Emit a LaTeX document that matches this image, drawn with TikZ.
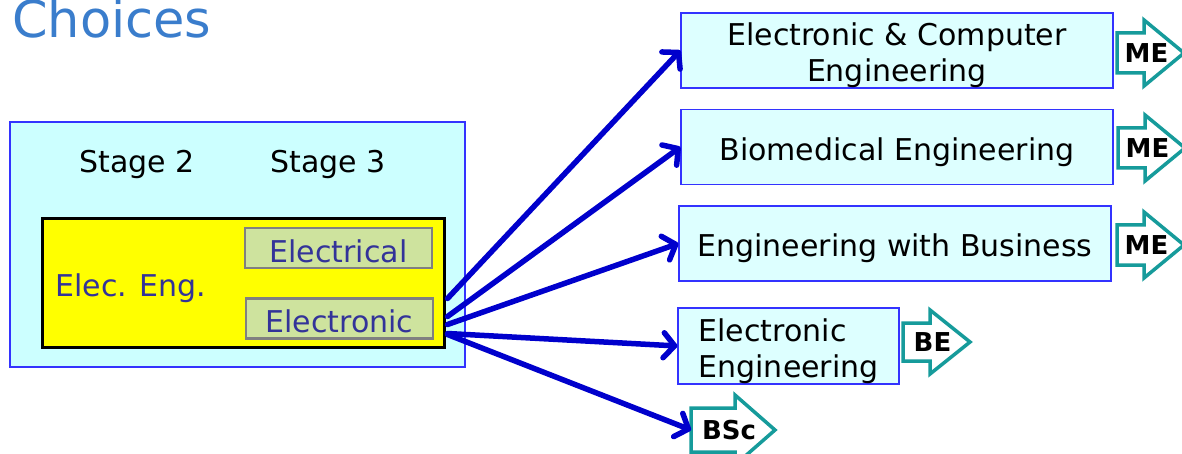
\documentclass[tikz,border=0pt]{standalone}
\usepackage{fontspec}
\setmainfont{DejaVu Sans}
\usetikzlibrary{arrows.meta,calc}

\definecolor{panelcyan}{RGB}{204,255,255}
\definecolor{boxcyan}{RGB}{221,255,255}
\definecolor{edgeblue}{RGB}{51,51,255}
\definecolor{labelblue}{RGB}{51,51,153}
\definecolor{optiongreen}{RGB}{206,227,158}
\definecolor{arrowblue}{RGB}{0,0,204}
\definecolor{badgeteal}{RGB}{22,155,155}
\definecolor{titleblue}{RGB}{58,125,204}
\definecolor{pureyellow}{RGB}{255,255,0}

% degree badge: name, left x, centre y, body length, body half height, head half height, label
\newcommand\degreebadge[7]{%
  \draw[badge] (#2,#3) -- ++(0,-#5) -- ++(#4,0) -- ++(0,#5-#6) -- ++(40,#6)
    -- ++(-40,#6) -- ++(0,#5-#6) -- ++(-#4,0) -- cycle;
  \coordinate (#1-in) at (#2,#3);
  \node[badgetext] (#1) at (#2+#4/2+16,#3) {#7};
}

\begin{document}
\begin{tikzpicture}[x=1pt,y=-1pt,
  every node/.style={font=\fontsize{30}{36}\selectfont},
  label/.style={yshift=-3pt},
  panel/.style={draw=edgeblue,line width=1.2pt,fill=panelcyan,minimum width=455pt,minimum height=245pt},
  major/.style={draw=black,line width=3pt,fill=pureyellow,minimum width=402pt,minimum height=128pt},
  option/.style={draw=gray,line width=2.5pt,fill=optiongreen,text=labelblue,minimum width=187pt,minimum height=40pt,inner sep=0pt},
  optiontext/.style={text=labelblue,yshift=-3pt},
  course/.style={draw=edgeblue,line width=1.2pt,fill=boxcyan,minimum width=432pt,minimum height=75pt,inner sep=0pt},
  coursetext/.style={align=center,yshift=-5pt},
  badge/.style={draw=badgeteal,line width=3.5pt,fill=white,line join=miter},
  badgetext/.style={font=\fontsize{26}{30}\selectfont\bfseries,inner sep=0pt},
  route/.style={draw=arrowblue,line width=5.5pt,line cap=round,
    -{Straight Barb[length=11pt,width=25pt,line cap=round,line join=round]}}
]
\useasboundingbox (0,0) rectangle (1182,454);

% heading
\node[anchor=base west,text=titleblue,font=\fontsize{51}{60}\selectfont,inner sep=0pt] (title) at (12,38) {Choices};

% programme panel
\node[panel] (panel) at (237.5,244.5) {};
\node[label] (stage2) at (137,161) {Stage 2};
\node[label] (stage3) at (328,161) {Stage 3};
\node[major] (major) at (243,283) {};
\node[optiontext] (eleceng) at (131,285) {Elec. Eng.};
\node[option] (electrical) at (338.5,248) {};
\node[optiontext] at (electrical) {Electrical};
\node[option] (electronic) at (339.5,318.5) {};
\node[optiontext] at (electronic) {Electronic};

% destination courses
\node[course] (ece) at (897,50.5) {};
\node[coursetext] at (ece) {Electronic \& Computer\\Engineering};
\node[course] (bio) at (897,147) {};
\node[coursetext] at (bio) {Biomedical Engineering};
\node[course] (bus) at (895,243.5) {};
\node[coursetext] at (bus) {Engineering with Business};
\node[course,minimum width=221pt,minimum height=76pt] (ee) at (788.5,346) {};
\node[align=left,anchor=west,yshift=-5pt,inner sep=0pt] at ($(ee.west)+(21,0)$) {Electronic\\Engineering};

% degree badges
\degreebadge{me1}{1117}{53}{27}{20}{33}{ME}
\degreebadge{me2}{1118}{148}{27}{20}{33}{ME}
\degreebadge{me3}{1117}{245}{27}{20}{33}{ME}
\degreebadge{be}{903}{342}{27}{19}{32}{BE}
\degreebadge{bsc}{691}{430}{44}{22}{35}{BSc}

% routes out of the Electronic option
\draw[route] ($(major.south east)+(2,-50)$) -- (ece.west);
\draw[route] ($(major.south east)+(2,-32)$) -- (bio.west);
\draw[route] ($(major.south east)+(2,-24)$) -- (bus.west);
\draw[route] ($(major.south east)+(2,-15)$) -- (ee.west);
\draw[route] ($(major.south east)+(2,-14)$) -- (bsc-in);
\end{tikzpicture}
\end{document}
